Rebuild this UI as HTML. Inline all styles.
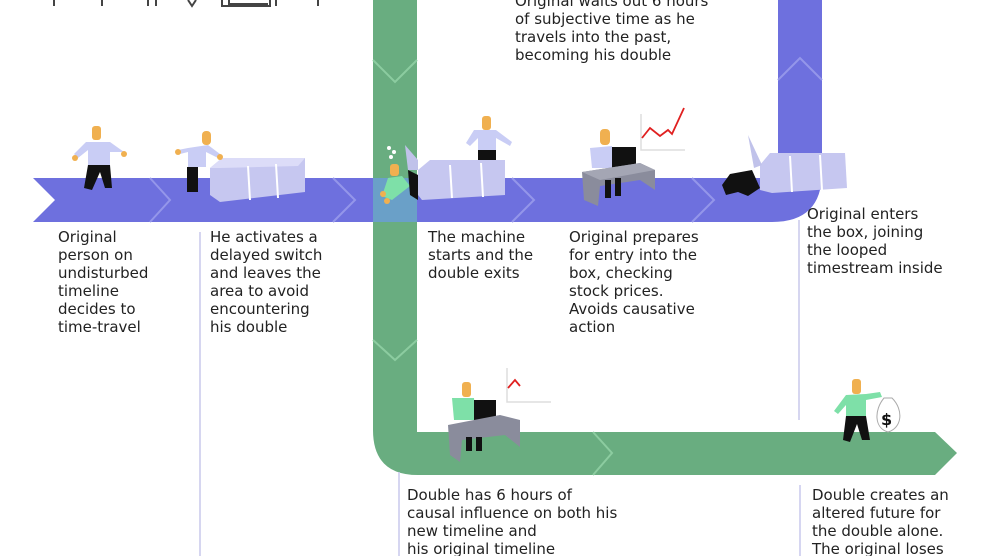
<!DOCTYPE html>
<html><head><meta charset="utf-8"><style>
html,body{margin:0;padding:0;background:#fff;}
svg{display:block;}
text{font-family:"DejaVu Sans","Liberation Sans",sans-serif;font-size:15px;fill:#222;}
</style></head><body>
<svg width="990" height="556" viewBox="0 0 990 556" xmlns="http://www.w3.org/2000/svg">
<g stroke="#444" stroke-width="2" fill="none">
<line x1="54" y1="0" x2="54" y2="6"/><line x1="102" y1="0" x2="102" y2="6"/>
<line x1="148" y1="0" x2="148" y2="6"/><line x1="156" y1="0" x2="156" y2="6"/>
<path d="M188 0 L192 6 L196 0"/>
<path d="M222 0 L222 6 L270 6 L270 0"/><path d="M229 0 L229 4 L268 4"/>
<line x1="276" y1="0" x2="276" y2="6"/><line x1="318" y1="0" x2="318" y2="6"/>
</g>
<path d="M33 178 L778 178 L778 0 L822 0 L822 172 Q822 222 772 222 L33 222 L55 200 Z" fill="#6e70de"/>
<g stroke="#9496ea" stroke-width="2" fill="none">
<path d="M150 178 L170 200 L150 222"/><path d="M333 178 L355 200 L333 222"/>
<path d="M512 178 L534 200 L512 222"/><path d="M692 178 L714 200 L692 222"/>
<path d="M778 80 L800 58 L822 80"/>
</g>
<path d="M373 0 L417 0 L417 432 L935 432 L957 453 L935 475 L418 475 Q373 475 373 430 Z" fill="#69ad80"/>
<rect x="373" y="178" width="44" height="44" fill="#6aa0c8"/>
<g stroke="#8ccca0" stroke-width="2" fill="none">
<path d="M373 60 L395 82 L417 60"/><path d="M373 340 L395 360 L417 340"/>
<path d="M593 432 L612 453 L593 475"/>
</g>
<g stroke="#c8c8ec" stroke-width="1.5">
<line x1="200" y1="232" x2="200" y2="556"/>
<line x1="399" y1="472" x2="399" y2="556"/>
<line x1="799" y1="220" x2="799" y2="420"/>
<line x1="800" y1="485" x2="800" y2="556"/>
</g>
<g>
<path d="M210 168 L222 158 L305 158 L305 192 L220 202 L210 195 Z" fill="#c6c7f0"/>
<path d="M210 168 L222 158 L305 158 L298 166 L220 168 Z" fill="#dcdcf8"/>
<path d="M248 166 L250 200 M276 164 L278 198" stroke="#fff" stroke-width="2"/>
<path d="M418 170 L430 160 L505 160 L505 195 L422 200 L418 195 Z" fill="#c6c7f0"/>
<path d="M450 165 L452 198 M481 163 L483 197" stroke="#fff" stroke-width="2"/>
<path d="M405 145 L418 160 L418 170 L408 170 Z" fill="#c0c2ea"/>
<path d="M760 165 L770 153 L845 153 L847 188 L772 193 L760 190 Z" fill="#c6c7f0"/>
<path d="M790 156 L792 192 M820 155 L822 190" stroke="#fff" stroke-width="2"/>
<path d="M748 135 L762 165 L754 168 Z" fill="#c0c2ea"/>
</g>
<g>
<rect x="92" y="126" width="9" height="14" rx="3" fill="#f0b050"/>
<path d="M86 142 L110 142 L124 152 L110 152 L110 165 L88 165 L88 150 L78 158 L74 154 Z" fill="#c9cdf5"/>
<circle cx="75" cy="158" r="3" fill="#f0b050"/><circle cx="124" cy="154" r="3" fill="#f0b050"/>
<path d="M88 165 L110 165 L112 188 L105 188 L100 172 L92 190 L84 188 Z" fill="#111"/>
<rect x="202" y="131" width="9" height="14" rx="4" fill="#f0b050"/>
<path d="M188 148 L208 145 L220 154 L218 158 L206 152 L206 167 L188 167 L188 152 L180 154 L178 150 Z" fill="#c9cdf5"/>
<circle cx="178" cy="152" r="3" fill="#f0b050"/><circle cx="220" cy="157" r="3" fill="#f0b050"/>
<rect x="187" y="167" width="11" height="25" fill="#111"/>
<rect x="482" y="116" width="9" height="14" rx="3" fill="#f0b050"/>
<path d="M474 130 L496 130 L512 142 L510 146 L496 138 L496 152 L478 152 L478 138 L470 146 L466 143 Z" fill="#c9cdf5"/>
<rect x="478" y="150" width="18" height="10" fill="#111"/>
<circle cx="389" cy="148" r="2" fill="#fff"/><circle cx="394" cy="152" r="2" fill="#fff"/><circle cx="391" cy="157" r="2" fill="#fff"/>
<rect x="390" y="164" width="9" height="12" rx="3" fill="#f0b050"/>
<path d="M388 178 L402 176 L410 186 L392 200 L382 196 Z" fill="#7ee0a8"/>
<circle cx="383" cy="194" r="3" fill="#f0b050"/><circle cx="387" cy="201" r="3" fill="#f0b050"/>
<path d="M408 170 L418 175 L418 200 L410 195 Z" fill="#111"/>
<rect x="600" y="129" width="10" height="16" rx="4" fill="#f0b050"/>
<path d="M590 148 L612 146 L614 168 L592 168 Z" fill="#c9cdf5"/>
<rect x="612" y="147" width="24" height="22" fill="#111"/>
<path d="M582 172 L640 163 L655 170 L655 190 L640 180 L600 186 L598 206 L584 200 Z" fill="#8a8c9c"/>
<path d="M582 172 L640 163 L655 170 L600 180 Z" fill="#a4a6b4"/>
<rect x="605" y="180" width="6" height="18" fill="#111"/><rect x="615" y="178" width="6" height="18" fill="#111"/>
<path d="M641 114 L641 150 L685 150" stroke="#ddd" stroke-width="1.5" fill="none"/>
<path d="M642 138 L650 128 L660 136 L668 130 L672 134 L684 108" stroke="#e02020" stroke-width="1.8" fill="none"/>
<path d="M730 174 L752 170 L760 188 L748 196 L738 192 L726 195 L722 185 Z" fill="#111"/>
<rect x="462" y="382" width="9" height="15" rx="3" fill="#f0b050"/>
<path d="M452 398 L474 398 L476 420 L454 420 Z" fill="#7ee0a8"/>
<rect x="474" y="400" width="22" height="22" fill="#111"/>
<path d="M448 425 L500 415 L520 420 L520 447 L505 435 L462 440 L460 462 L450 455 Z" fill="#8a8c9c"/>
<rect x="466" y="437" width="6" height="14" fill="#111"/><rect x="476" y="437" width="6" height="14" fill="#111"/>
<path d="M507 368 L507 402 L551 402" stroke="#ddd" stroke-width="1.5" fill="none"/>
<path d="M508 388 L515 380 L520 386" stroke="#e02020" stroke-width="1.8" fill="none"/>
<rect x="852" y="379" width="9" height="15" rx="3" fill="#f0b050"/>
<path d="M846 395 L866 394 L880 392 L882 397 L866 400 L866 416 L846 416 L846 405 L838 414 L834 411 Z" fill="#7ee0a8"/>
<path d="M846 416 L866 416 L870 440 L862 440 L857 424 L850 442 L843 440 Z" fill="#111"/>
<path d="M884 398 C874 410 874 428 888 432 C902 428 904 410 892 398 Z" fill="#fff" stroke="#aaa" stroke-width="1"/>
<text x="881" y="425" style="font-size:16px;font-weight:bold;fill:#111">$</text>
</g>
<g>
<text x="58" y="242">Original</text><text x="58" y="260">person on</text><text x="58" y="278">undisturbed</text><text x="58" y="296">timeline</text><text x="58" y="314">decides to</text><text x="58" y="332">time-travel</text>
<text x="210" y="242">He activates a</text><text x="210" y="260">delayed switch</text><text x="210" y="278">and leaves the</text><text x="210" y="296">area to avoid</text><text x="210" y="314">encountering</text><text x="210" y="332">his double</text>
<text x="428" y="242">The machine</text><text x="428" y="260">starts and the</text><text x="428" y="278">double exits</text>
<text x="569" y="242">Original prepares</text><text x="569" y="260">for entry into the</text><text x="569" y="278">box, checking</text><text x="569" y="296">stock prices.</text><text x="569" y="314">Avoids causative</text><text x="569" y="332">action</text>
<text x="807" y="219">Original enters</text><text x="807" y="237">the box, joining</text><text x="807" y="255">the looped</text><text x="807" y="273">timestream inside</text>
<text x="515" y="6">Original waits out 6 hours</text><text x="515" y="24">of subjective time as he</text><text x="515" y="42">travels into the past,</text><text x="515" y="60">becoming his double</text>
<text x="407" y="500">Double has 6 hours of</text><text x="407" y="518">causal influence on both his</text><text x="407" y="536">new timeline and</text><text x="407" y="554">his original timeline</text>
<text x="812" y="500">Double creates an</text><text x="812" y="518">altered future for</text><text x="812" y="536">the double alone.</text><text x="812" y="554">The original loses</text>
</g>
</svg>
</body></html>
